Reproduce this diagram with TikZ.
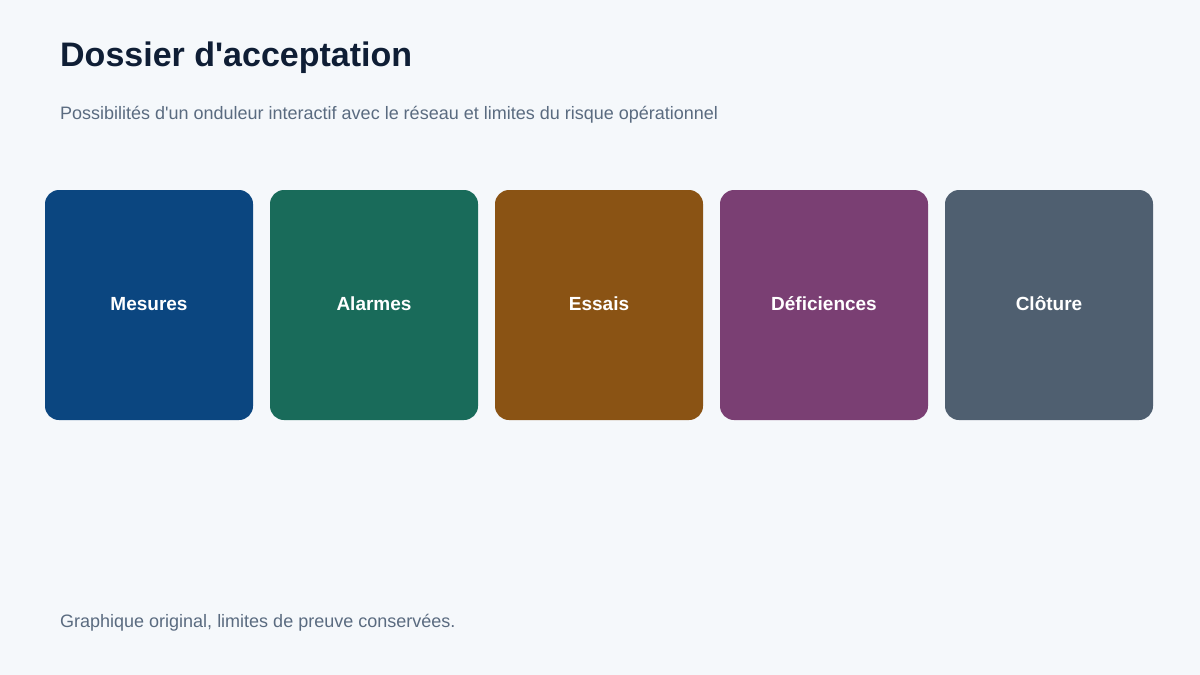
\documentclass[tikz,border=0pt]{standalone}
\usepackage{fontspec}
\setmainfont{Liberation Sans}
\usetikzlibrary{positioning}

\definecolor{pagebg}{HTML}{F5F8FB}
\definecolor{titleink}{HTML}{0F1E35}
\definecolor{noteink}{HTML}{5A6B80}
\definecolor{mesblue}{HTML}{0B4680}
\definecolor{alagreen}{HTML}{196B5A}
\definecolor{essbrown}{HTML}{8A5314}
\definecolor{defpurple}{HTML}{7A3F73}
\definecolor{closlate}{HTML}{4F5F70}

\newcommand{\apos}{\textquotesingle}

\tikzset{
  stagebox/.style={rounded corners=14pt, minimum width=208pt, minimum height=230pt,
    inner sep=0pt, outer sep=0pt, text height=14pt, text depth=4pt,
    text=white, font=\fontsize{19}{22}\selectfont\bfseries},
  note/.style={anchor=base west, text=noteink, font=\fontsize{18}{21}\selectfont, inner sep=0pt}
}

\begin{document}
\begin{tikzpicture}[x=1pt, y=-1pt, node distance=17pt]
\fill [pagebg] (0,0) rectangle (1200,675);
\useasboundingbox (0,0) rectangle (1200,675);

\node [anchor=base west, inner sep=0pt, text=titleink, font=\fontsize{34}{40}\selectfont\bfseries]
  (title) at (60,66) {Dossier d\apos acceptation};
\node [note] (subtitle) at (60,119)
  {Possibilités d\apos un onduleur interactif avec le réseau et limites du risque opérationnel};

\node [stagebox, fill=mesblue, anchor=north west] (mesures) at (45,190) {Mesures};
\node [stagebox, fill=alagreen, right=of mesures] (alarmes) {Alarmes};
\node [stagebox, fill=essbrown, right=of alarmes] (essais) {Essais};
\node [stagebox, fill=defpurple, right=of essais] (deficiences) {Déficiences};
\node [stagebox, fill=closlate, right=of deficiences] (cloture) {Clôture};

\node [note] (footer) at (60,627) {Graphique original, limites de preuve conservées.};
\end{tikzpicture}
\end{document}
